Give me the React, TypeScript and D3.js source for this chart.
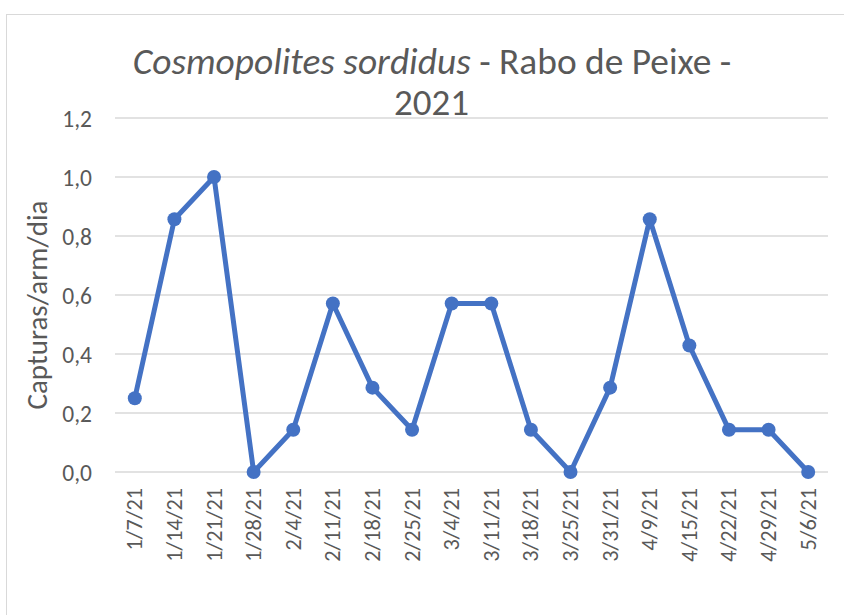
import React, { useEffect, useRef } from 'react';
import * as d3 from 'd3';

const dates = ['1/7/21', '1/14/21', '1/21/21', '1/28/21', '2/4/21', '2/11/21', '2/18/21', '2/25/21', '3/4/21',
  '3/11/21', '3/18/21', '3/25/21', '3/31/21', '4/9/21', '4/15/21', '4/22/21', '4/29/21', '5/6/21'];
const captures = [0.25, 0.857, 1.0, 0, 0.143, 0.571, 0.286, 0.143, 0.571,
  0.571, 0.143, 0, 0.286, 0.857, 0.429, 0.143, 0.143, 0];
const yTicks = [0, 0.2, 0.4, 0.6, 0.8, 1.0, 1.2];

const W = 844, H = 615;
const FONT = 'Carlito, Calibri, "Open Sans", sans-serif';
const TXT = '#595959';
const BLUE = '#4472C4';

export default function App() {
  const ref = useRef<SVGSVGElement>(null);

  useEffect(() => {
    const svg = d3.select(ref.current);
    svg.selectAll('*').remove();

    // chart frame
    svg.append('rect')
      .attr('x', 6.5).attr('y', 14.5)
      .attr('width', 850).attr('height', 620)
      .attr('fill', 'white').attr('stroke', '#d9d9d9');

    const x = d3.scaleBand().domain(dates).range([115, 828]);
    const y = d3.scaleLinear().domain([0, 1.2]).range([472, 118]);

    svg.selectAll('.grid')
      .data(yTicks)
      .enter()
      .append('line')
      .attr('x1', 115).attr('x2', 828)
      .attr('y1', d => y(d)).attr('y2', d => y(d))
      .attr('stroke', '#d9d9d9').attr('stroke-width', 1.3);

    svg.selectAll('.ylab')
      .data(yTicks)
      .enter()
      .append('text')
      .attr('x', 92).attr('y', d => y(d) + 8.5)
      .attr('text-anchor', 'end')
      .attr('font-family', FONT).attr('font-size', 23.5)
      .attr('fill', TXT)
      .text(d => d3.format('.1f')(d).replace('.', ','));

    svg.selectAll('.xlab')
      .data(dates)
      .enter()
      .append('text')
      .attr('transform', d => `translate(${x(d)! + x.bandwidth() / 2 + 7.5},488) rotate(-90)`)
      .attr('text-anchor', 'end')
      .attr('font-family', FONT).attr('font-size', 22.3)
      .attr('fill', TXT)
      .text(d => d);

    svg.append('text')
      .attr('transform', 'translate(47,305) rotate(-90)')
      .attr('text-anchor', 'middle')
      .attr('font-family', FONT).attr('font-size', 29)
      .attr('fill', TXT)
      .text('Capturas/arm/dia');

    const title = svg.append('text')
      .attr('x', 432).attr('y', 74)
      .attr('text-anchor', 'middle')
      .attr('font-family', FONT).attr('font-size', 37.4)
      .attr('fill', TXT);
    title.append('tspan').attr('font-style', 'italic').text('Cosmopolites sordidus');
    title.append('tspan').text(' - Rabo de Peixe -');
    svg.append('text')
      .attr('x', 431.5).attr('y', 115)
      .attr('text-anchor', 'middle')
      .attr('font-family', FONT).attr('font-size', 37)
      .attr('fill', TXT)
      .text('2021');

    const pts = dates.map((d, i) => [x(d)! + x.bandwidth() / 2, y(captures[i])] as [number, number]);

    svg.append('path')
      .attr('d', d3.line()(pts))
      .attr('fill', 'none')
      .attr('stroke', BLUE).attr('stroke-width', 5)
      .attr('stroke-linejoin', 'round');

    svg.selectAll('.dot')
      .data(pts)
      .enter()
      .append('circle')
      .attr('cx', d => d[0]).attr('cy', d => d[1])
      .attr('r', 7)
      .attr('fill', BLUE);
  }, []);

  return (
    <svg ref={ref} width={W} height={H}
      style={{ position: 'absolute', left: 0, top: 0, display: 'block' }} />
  );
}
